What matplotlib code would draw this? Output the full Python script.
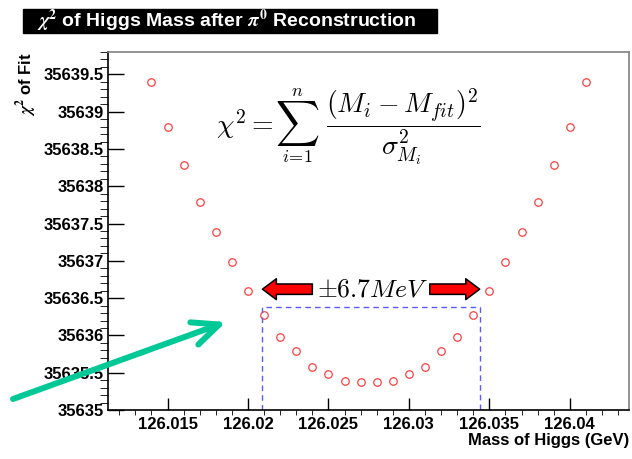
import matplotlib
matplotlib.use('Agg')
import matplotlib.pyplot as plt
from matplotlib.ticker import MultipleLocator, FuncFormatter
from matplotlib.patches import Rectangle, FancyArrowPatch

# data
mass = [126.014, 126.015, 126.016, 126.017, 126.018, 126.019, 126.020,
        126.021, 126.022, 126.023, 126.024, 126.025, 126.026, 126.027,
        126.028, 126.029, 126.030, 126.031, 126.032, 126.033, 126.034,
        126.035, 126.036, 126.037, 126.038, 126.039, 126.040, 126.041]
chi2 = [35639.40, 35638.80, 35638.29, 35637.79, 35637.39, 35636.98, 35636.59,
        35636.28, 35635.98, 35635.79, 35635.58, 35635.48, 35635.39, 35635.37,
        35635.37, 35635.39, 35635.48, 35635.58, 35635.79, 35635.98, 35636.28,
        35636.59, 35636.98, 35637.39, 35637.79, 35638.29, 35638.80, 35639.40]

# +-6.7 MeV window around the minimum
window_lo = 126.0209
window_hi = 126.0344
window_top = 35636.38
arrow_y = 35636.62

plt.rcParams['font.family'] = ['Liberation Sans', 'DejaVu Sans']
plt.rcParams['font.weight'] = 'bold'
plt.rcParams['mathtext.fontset'] = 'cm'

W, H = 632, 459
AX_L, AX_R, AX_T, AX_B = 108, 629.3, 52, 410
fig = plt.figure(figsize=(W / 100, H / 100), dpi=100)
ax = fig.add_axes([AX_L / W, 1 - AX_B / H, (AX_R - AX_L) / W, (AX_B - AX_T) / H])


def px(xp, yp):
    # pixel position in the picture -> axes fraction
    return (xp - AX_L) / (AX_R - AX_L), (AX_B - yp) / (AX_B - AX_T)


ax.plot(mass, chi2, 'o', mfc='none', mec='#ff4040', mew=0.9, ms=5.4)
ax.set_xlim(126.0113, 126.0437)
ax.set_ylim(35635.0, 35639.8)

# dashed box showing the window
ax.plot([window_lo, window_lo, window_hi, window_hi],
        [35635.0, window_top, window_top, 35635.0],
        ls=(0, (4, 3)), color='#5a5aff', lw=1.0)

# red arrows + label
red_style = 'simple,head_length=10,head_width=15,tail_width=7.5'
for a, b in [(126.0240, window_lo), (126.0313, window_hi)]:
    ax.add_patch(FancyArrowPatch((a, arrow_y), (b, arrow_y), arrowstyle=red_style,
                                 mutation_scale=1, shrinkA=0, shrinkB=0,
                                 fc='red', ec='black', lw=1.1, zorder=5))
ax.text(126.02773, arrow_y, r'$\pm6.7MeV$', fontsize=18.5, ha='center', va='center')

# formula, pieced together so the sum sign is display size
ax.text(*px(273, 124.5), r'$\chi^2 =$', fontsize=20, ha='right', va='center',
        transform=ax.transAxes)
ax.text(*px(297, 124), r'$\sum$', fontsize=22, ha='center', va='center',
        transform=ax.transAxes)
ax.text(*px(297, 91), r'$n$', fontsize=13, ha='center', va='center',
        transform=ax.transAxes)
ax.text(*px(297, 157), r'$i\!=\!1$', fontsize=13, ha='center', va='center',
        transform=ax.transAxes)
ax.text(*px(326, 126.5), r'$\dfrac{(M_i - M_{fit})^2}{\sigma^2_{M_i}}$',
        fontsize=20, ha='left', va='center', transform=ax.transAxes)

# ticks
fmt = FuncFormatter(lambda v, p: '%g' % v)
ax.xaxis.set_major_locator(MultipleLocator(0.005))
ax.xaxis.set_minor_locator(MultipleLocator(0.001))
ax.yaxis.set_major_locator(MultipleLocator(0.5))
ax.yaxis.set_minor_locator(MultipleLocator(0.1))
ax.xaxis.set_major_formatter(fmt)
ax.yaxis.set_major_formatter(fmt)
ax.tick_params(axis='both', direction='in', labelsize=12, width=1)
ax.tick_params(axis='x', which='major', length=8.5, pad=5)
ax.tick_params(axis='x', which='minor', length=3.8)
ax.tick_params(axis='y', which='major', length=11.5, pad=3)
ax.tick_params(axis='y', which='minor', length=6)
for lab in ax.get_xticklabels() + ax.get_yticklabels():
    lab.set_fontweight('bold')

for s in ['top', 'right']:
    ax.spines[s].set_color('#808080')
for s in ax.spines.values():
    s.set_linewidth(1.2)

ax.set_xlabel('Mass of Higgs (GeV)', fontsize=12, fontweight='bold', loc='right')
ax.xaxis.set_label_coords(1.0, -23 / 358)
ax.set_ylabel(r'$\chi^{\mathbf{2}}$ of Fit', fontsize=12, fontweight='bold',
              loc='top', math_fontfamily='stix')
ax.yaxis.set_label_coords(-69 / 521.3, 1.0)

# title box
fig.patches.append(Rectangle((23 / W, 1 - 33 / H), (437 - 23) / W, 24 / H,
                             transform=fig.transFigure, fc='black', ec='black'))
fig.text(37 / W, 1 - 21 / H,
         r'$\chi^{\mathbf{2}}$ of Higgs Mass after $\pi^{\mathbf{0}}$ Reconstruction',
         color='white', fontsize=14, fontweight='bold', ha='left', va='center',
         math_fontfamily='stix')

# green pointer arrow
fig.add_artist(FancyArrowPatch((13, H - 399), (226, H - 322), transform=None,
                               arrowstyle='->,head_length=19,head_width=8.5',
                               mutation_scale=1, shrinkA=0, shrinkB=0,
                               color='#00c896', lw=4.3, capstyle='round',
                               joinstyle='round', zorder=10))

fig.savefig('out.png', dpi=100)
